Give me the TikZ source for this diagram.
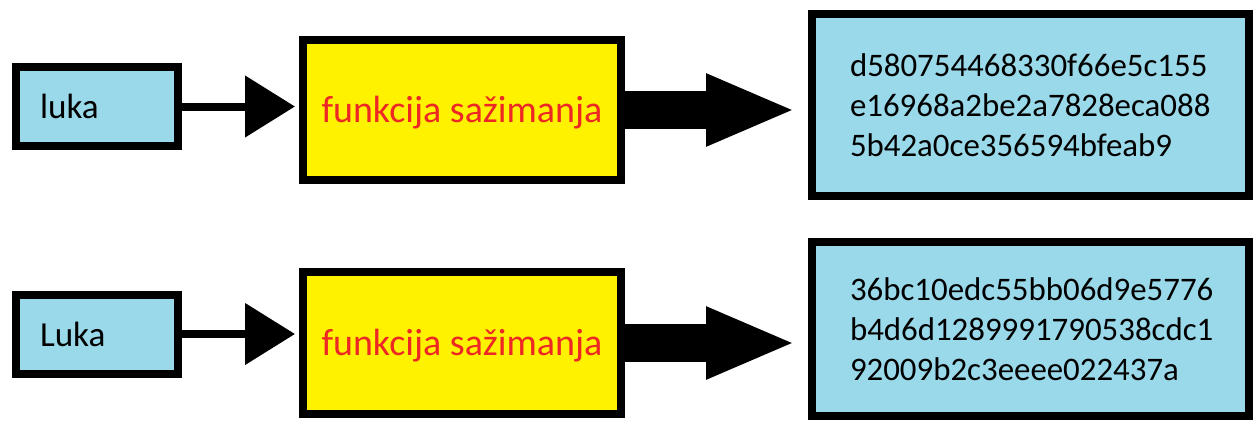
\documentclass[tikz,border=0pt]{standalone}
\usepackage{fontspec}
\setmainfont{Carlito}
\usetikzlibrary{arrows.meta}
\definecolor{plava}{RGB}{153,217,234}
\definecolor{zuta}{RGB}{255,242,0}
\definecolor{crvena}{RGB}{237,40,36}

\begin{document}
\begin{tikzpicture}[
  okvir/.style={draw=black, line width=0.16cm, rectangle, inner sep=0pt},
  ulaz/.style={okvir, fill=plava, minimum width=3.24cm, minimum height=1.58cm,
    text width=2.28cm, align=left, font=\fontsize{20}{24}\selectfont},
  fun/.style={okvir, fill=zuta, minimum width=6.36cm, minimum height=2.8cm,
    text=crvena, text height=1.6em, text depth=0.2em, font=\fontsize{21.6}{26}\selectfont},
  sazetak/.style={okvir, fill=plava, minimum width=8.74cm, minimum height=3.64cm,
    text width=7.22cm, align=left, font=\fontsize{18.7}{22.8}\selectfont},
  tanka/.style={line width=0.16cm, -{Triangle[length=1cm, width=1.2cm]}, shorten >=0.08cm},
  debela/.style={line width=0.76cm, -{Triangle[length=1.8cm, width=1.32cm]}, shorten >=0.24cm}
]
\useasboundingbox (0, 0) rectangle (25.08, 8.42);

\def\xa{1.94}
\def\xb{9.24}
\def\xc{20.61}

% gornji red
\node[ulaz] (l1) at (\xa, 6.29) {luka};
\node[fun] (f1) at (\xb, 6.22) {funkcija sažimanja};
\node[sazetak] (h1) at (\xc, 6.32) {d580754468330f66e5c155\\e16968a2be2a7828eca088\\5b42a0ce356594bfeab9};
\draw[tanka] (l1.east) -- (l1.east -| f1.west);
\draw[debela] (f1.east) -- (f1.east -| h1.west);

% donji red
\node[ulaz] (l2) at (\xa, 1.74) {Luka};
\node[fun, minimum height=2.84cm] (f2) at (\xb, 1.56) {funkcija sažimanja};
\node[sazetak, minimum height=3.48cm] (h2) at (\xc, 1.84) {36bc10edc55bb06d9e5776\\b4d6d1289991790538cdc1\\92009b2c3eeee022437a};
\draw[tanka] (l2.east) -- (l2.east -| f2.west);
\draw[debela] (f2.east) -- (f2.east -| h2.west);
\end{tikzpicture}
\end{document}
